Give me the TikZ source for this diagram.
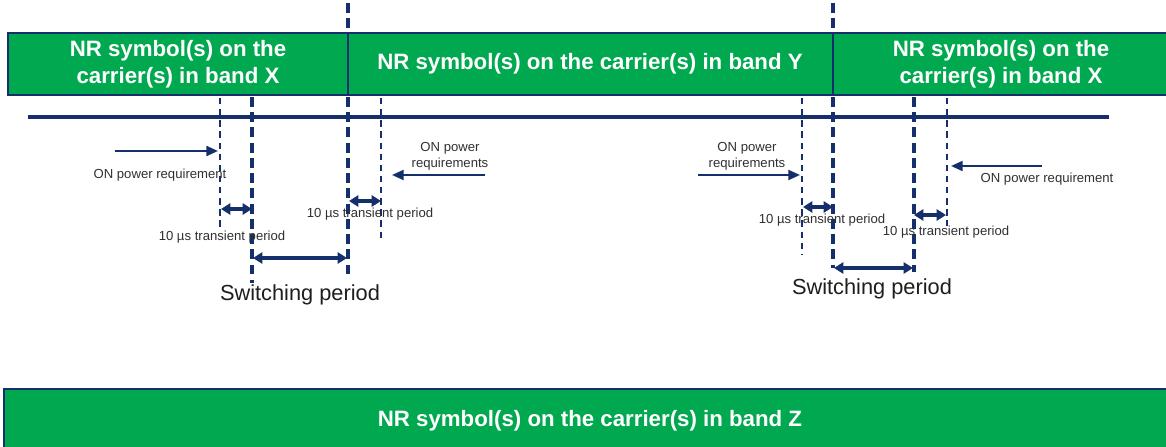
\documentclass[tikz,border=0pt]{standalone}
\usepackage{fontspec}
\setmainfont{Liberation Sans}
\usetikzlibrary{arrows.meta}
\definecolor{nrgreen}{HTML}{00A94F}
\definecolor{navy}{HTML}{142F6B}
\definecolor{txtgray}{HTML}{303030}
\definecolor{txtdark}{HTML}{1E1E1E}
\begin{document}
\begin{tikzpicture}[x=0.03cm,y=-0.03cm,
  bandbox/.style={draw=navy,fill=nrgreen,line width=2.3pt},
  bandtext/.style={text=white,font=\fontsize{19}{23}\selectfont\bfseries,align=center,inner sep=0pt},
  timeline/.style={draw=navy,line width=2.6pt},
  thickdash/.style={draw=navy,line width=2.9pt,dash pattern=on 8.5pt off 4.5pt},
  thindash/.style={draw=navy,line width=2.1pt,dash pattern=on 5.5pt off 4pt},
  onarrow/.style={draw=navy,line width=1.9pt,-{Triangle[length=10pt,width=8.5pt]}},
  dblarrow/.style={draw=navy,line width=2.6pt,{Triangle[length=8pt,width=9.5pt]}-{Triangle[length=8pt,width=9.5pt]}},
  smalltext/.style={text=txtgray,font=\fontsize{11.2}{14}\selectfont,inner sep=0pt,align=center},
  swtext/.style={text=txtdark,font=\fontsize{18.6}{21}\selectfont,inner sep=0pt}]
\useasboundingbox (0,0) rectangle (1166,447);
\fill[white] (0,0) rectangle (1166,447);

% band boxes
\draw[bandbox] (8,33) rectangle (348,95);
\draw[bandbox] (348,33) rectangle (833,95);
\draw[bandbox] (833,33) rectangle (1174,95);
\draw[bandbox] (4,389) rectangle (1174,454);
\node[bandtext] (bandX1) at (178,64) {NR symbol(s) on the\\carrier(s) in band X};
\node[bandtext] (bandY) at (590,64) {NR symbol(s) on the carrier(s) in band Y};
\node[bandtext] (bandX2) at (1001,64) {NR symbol(s) on the\\carrier(s) in band X};
\node[bandtext] (bandZ) at (590,421) {NR symbol(s) on the carrier(s) in band Z};

% time line
\coordinate (tlL) at (28,117);
\coordinate (tlR) at (1109,117);
\draw[timeline] (tlL) -- (tlR);

% boundary coordinates
\coordinate (a1t) at (220,98);  \coordinate (a1b) at (220,230);
\coordinate (b1t) at (252,97);  \coordinate (b1b) at (252,283);
\coordinate (c1u) at (348,3);   \coordinate (c1v) at (348,29);
\coordinate (c1t) at (348,97);  \coordinate (c1b) at (348,276);
\coordinate (d1t) at (381,98);  \coordinate (d1b) at (381,240);
\coordinate (d2t) at (802,98);  \coordinate (d2b) at (802,254);
\coordinate (c2u) at (833,3);   \coordinate (c2v) at (833,29);
\coordinate (c2t) at (833,97);  \coordinate (c2b) at (833,268);
\coordinate (b2t) at (914,97);  \coordinate (b2b) at (914,272);
\coordinate (a2t) at (947,98);  \coordinate (a2b) at (947,226);

\draw[thindash] (a1t) -- (a1b);
\draw[thickdash] (b1t) -- (b1b);
\draw[thickdash] (c1u) -- (c1v);
\draw[thickdash] (c1t) -- (c1b);
\draw[thindash] (d1t) -- (d1b);
\draw[thindash] (d2t) -- (d2b);
\draw[thickdash] (c2u) -- (c2v);
\draw[thickdash] (c2t) -- (c2b);
\draw[thickdash] (b2t) -- (b2b);
\draw[thindash] (a2t) -- (a2b);

% ON power requirement arrows
\coordinate (on1s) at (115,151); \coordinate (on1e) at (218,151);
\coordinate (on2s) at (485,175); \coordinate (on2e) at (392,175);
\coordinate (on3s) at (698,175); \coordinate (on3e) at (800,175);
\coordinate (on4s) at (1042,166); \coordinate (on4e) at (951,166);
\draw[onarrow] (on1s) -- (on1e);
\draw[onarrow] (on2s) -- (on2e);
\draw[onarrow] (on3s) -- (on3e);
\draw[onarrow] (on4s) -- (on4e);

% transient arrows
\coordinate (t1l) at (221,209); \coordinate (t1r) at (252,209);
\coordinate (t2l) at (349,201); \coordinate (t2r) at (381,201);
\coordinate (t3l) at (803,207); \coordinate (t3r) at (833,207);
\coordinate (t4l) at (914,215); \coordinate (t4r) at (946,215);
\draw[dblarrow] (t1l) -- (t1r);
\draw[dblarrow] (t2l) -- (t2r);
\draw[dblarrow] (t3l) -- (t3r);
\draw[dblarrow] (t4l) -- (t4r);

% switching arrows
\coordinate (s1l) at (253,258); \coordinate (s1r) at (347,258);
\coordinate (s2l) at (834,268); \coordinate (s2r) at (913,268);
\draw[dblarrow] (s1l) -- (s1r);
\draw[dblarrow] (s2l) -- (s2r);

% labels
\node[smalltext] (lon1) at (160,175) {ON power requirement};
\node[smalltext] (ltr1) at (222,237) {10 µs transient period};
\node[smalltext] (ltr2) at (370,214) {10 µs transient period};
\node[smalltext] (lon2) at (450,156) {ON power\\requirements};
\node[smalltext] (lon3) at (747,156) {ON power\\requirements};
\node[smalltext] (ltr3) at (822,220) {10 µs transient period};
\node[smalltext] (ltr4) at (946,232) {10 µs transient period};
\node[smalltext] (lon4) at (1047,179) {ON power requirement};
\node[swtext] (lsw1) at (300,295) {Switching period};
\node[swtext] (lsw2) at (872,289) {Switching period};
\end{tikzpicture}
\end{document}
